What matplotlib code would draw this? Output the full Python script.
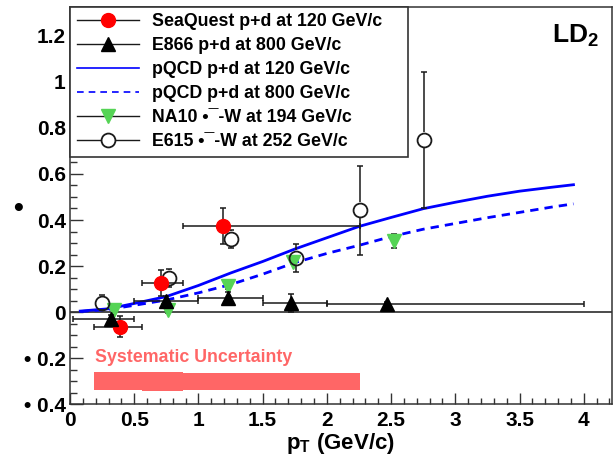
import numpy as np
import matplotlib
matplotlib.use("Agg")
import matplotlib.pyplot as plt
from matplotlib.lines import Line2D
from matplotlib.ticker import MultipleLocator, FuncFormatter

plt.rcParams['font.family'] = ['Liberation Sans', 'DejaVu Sans']
plt.rcParams['font.weight'] = 'bold'
plt.rcParams['mathtext.fontset'] = 'custom'
plt.rcParams['mathtext.rm'] = 'Liberation Sans:bold'
plt.rcParams['mathtext.bf'] = 'Liberation Sans:bold'
plt.rcParams['mathtext.it'] = 'Liberation Sans:bold'

# SeaQuest p+d at 120 GeV/c
sq_pt = [0.39, 0.71, 1.19]
sq_lo = [0.19, 0.563, 0.88]
sq_hi = [0.563, 0.88, 2.255]
sq_val = [-0.062, 0.126, 0.374]
sq_err = [0.047, 0.057, 0.080]
sq_sys = [0.039, 0.040, 0.036]
sys_center = -0.30

# E866 p+d at 800 GeV/c
e866_pt = [0.32, 0.75, 1.23, 1.72, 2.47]
e866_lo = [0.02, 0.5, 1.0, 1.5, 2.0]
e866_hi = [0.5, 1.0, 1.5, 2.0, 4.0]
e866_val = [-0.030, 0.050, 0.060, 0.041, 0.037]
e866_err = [0.020, 0.020, 0.026, 0.038, 0.008]

# pQCD calculations
pqcd_pt = [0.08, 0.3, 0.5, 0.75, 1.0, 1.25, 1.5, 1.75, 2.0, 2.25,
           2.5, 2.75, 3.0, 3.25, 3.5, 3.75, 3.92]
pqcd_120 = [0.005, 0.015, 0.038, 0.068, 0.116, 0.170, 0.220, 0.274, 0.323, 0.372,
            0.411, 0.449, 0.477, 0.503, 0.525, 0.542, 0.553]
pqcd_800 = [0.003, 0.012, 0.030, 0.053, 0.084, 0.120, 0.165, 0.215, 0.255, 0.290,
            0.328, 0.360, 0.385, 0.410, 0.433, 0.456, 0.470]

# NA10 pi- W at 194 GeV/c
na10_pt = [0.34, 0.76, 1.23, 1.74, 2.52]
na10_val = [0.008, 0.010, 0.113, 0.220, 0.310]
na10_err = [0.012, 0.012, 0.012, 0.012, 0.03]

# E615 pi- W at 252 GeV/c
e615_pt = [0.25, 0.77, 1.25, 1.76, 2.26, 2.76]
e615_val = [0.042, 0.148, 0.317, 0.236, 0.442, 0.746]
e615_err = [0.033, 0.039, 0.038, 0.060, 0.193, 0.295]

RED = '#ff0000'
GREEN = '#55d455'
BLUE = '#0000ff'
SYS = '#ff6666'
INK = '#1a1a1a'

YMIN, YMAX = -0.4, 1.325

fig = plt.figure(figsize=(6.16, 4.62), dpi=100)
ax = fig.add_axes([0.1136, 0.1245, 0.8799, 0.861])
ax.set_xlim(0, 4.22)
ax.set_ylim(YMIN, YMAX)

for s in ax.spines.values():
    s.set_color('#333333')
    s.set_linewidth(1.1)

ax.axhline(0, color=INK, lw=1.1, zorder=1.5)

# systematic uncertainty boxes
sq_pt_a = np.array(sq_pt)
sq_lo_a = np.array(sq_lo)
sq_hi_a = np.array(sq_hi)
sys_a = np.array(sq_sys)
ax.bar(sq_lo_a, 2 * sys_a, width=sq_hi_a - sq_lo_a, bottom=sys_center - sys_a,
       align='edge', color=SYS, lw=0, zorder=1)
ax.text(0.195, -0.196, "Systematic Uncertainty", color=SYS, fontsize=12.8,
        fontweight='bold', ha='left', va='center')

# pQCD curves
ax.plot(pqcd_pt, pqcd_120, color=BLUE, lw=2.0, zorder=2)
ax.plot(pqcd_pt, pqcd_800, color=BLUE, lw=2.0, ls=(0, (3, 2.2)), zorder=2)

ebkw = dict(ecolor=INK, elinewidth=1.1, capsize=2, capthick=1.1)

# E866
e866_pt_a = np.array(e866_pt)
ax.errorbar(e866_pt, e866_val,
            xerr=[e866_pt_a - np.array(e866_lo), np.array(e866_hi) - e866_pt_a],
            yerr=e866_err, fmt='^', ms=10, mfc='black', mec='black', zorder=6, **ebkw)

# NA10
ax.errorbar(na10_pt, na10_val, yerr=na10_err, fmt='v', ms=10, mfc=GREEN, mec=GREEN,
            zorder=4, **ebkw)

# E615 (hollow markers, error bars stop at the marker edge)
ax_h_px = ax.get_position().height * fig.get_figheight() * fig.dpi
r_data = (10 / 2 * fig.dpi / 72 + 1.0) / ax_h_px * (YMAX - YMIN)
for x, y, e in zip(e615_pt, e615_val, e615_err):
    if e > r_data:
        ax.vlines(x, y + r_data, y + e, color=INK, lw=1.1, zorder=5)
        ax.vlines(x, y - e, y - r_data, color=INK, lw=1.1, zorder=5)
    ax.plot([x, x], [y - e, y + e], ls='none', marker='_', ms=4, mew=1.1, color=INK, zorder=5)
ax.plot(e615_pt, e615_val, ls='none', marker='o', ms=10, mfc='none', mec=INK, mew=1.3, zorder=5)

# SeaQuest
ax.errorbar(sq_pt, sq_val, xerr=[sq_pt_a - sq_lo_a, sq_hi_a - sq_pt_a], yerr=sq_err,
            fmt='o', ms=10, mfc=RED, mec=RED, zorder=5.5, **ebkw)

# axes ticks
ax.xaxis.set_major_locator(MultipleLocator(0.5))
ax.xaxis.set_minor_locator(MultipleLocator(0.1))
ax.yaxis.set_major_locator(MultipleLocator(0.2))
ax.yaxis.set_minor_locator(MultipleLocator(0.05))


def tick_fmt(v, pos):
    s = f"{abs(v):g}"
    return "\u2022 " + s if v < -1e-9 else s


ax.xaxis.set_major_formatter(FuncFormatter(tick_fmt))
ax.yaxis.set_major_formatter(FuncFormatter(tick_fmt))
ax.tick_params(which='both', direction='in', top=False, right=False, color='#333333',
               width=1.0, labelsize=15)
ax.tick_params(axis='x', which='major', length=7.7, pad=5)
ax.tick_params(axis='x', which='minor', length=4)
ax.tick_params(axis='y', which='major', length=9, pad=3)
ax.tick_params(axis='y', which='minor', length=5)
for lab in ax.get_xticklabels() + ax.get_yticklabels():
    lab.set_fontweight('bold')

ax.text(0.5996, -0.1126, r"p$_{\mathrm{T}}$ (GeV/c)", transform=ax.transAxes,
        ha='right', va='baseline', fontsize=16, fontweight='bold')
fig.text(0.029, 0.548, "\u2022", fontsize=20, ha='center', va='center', fontweight='bold')
ax.text(0.976, 0.926, r"LD$_{\mathrm{2}}$", transform=ax.transAxes, ha='right',
        va='center', fontsize=19, fontweight='bold')

# legend
handles = [
    Line2D([], [], color=INK, lw=1.0, marker='o', ms=10, mfc=RED, mec=RED),
    Line2D([], [], color=INK, lw=1.0, marker='^', ms=10, mfc='black', mec='black'),
    Line2D([], [], color=BLUE, lw=1.2),
    Line2D([], [], color=BLUE, lw=1.2, ls=(0, (4, 3))),
    Line2D([], [], color=INK, lw=1.0, marker='v', ms=10, mfc=GREEN, mec=GREEN),
    Line2D([], [], color=INK, lw=1.0, marker='o', ms=10, mfc='white', mec=INK, mew=1.3),
]
labels = [
    "SeaQuest p+d at 120 GeV/c",
    "E866 p+d at 800 GeV/c",
    "pQCD p+d at 120 GeV/c",
    "pQCD p+d at 800 GeV/c",
    "NA10 \u2022\u00af-W at 194 GeV/c",
    "E615 \u2022\u00af-W at 252 GeV/c",
]
leg = ax.legend(handles, labels, loc='upper left', bbox_to_anchor=(0.0, 0.0, 0.6236, 1.0),
                mode='expand', borderaxespad=0, borderpad=0.38, labelspacing=0.39,
                handlelength=3.5, handletextpad=0.75, fancybox=False,
                framealpha=1, edgecolor='#333333', prop={'weight': 'bold', 'size': 12.8})
leg.get_frame().set_linewidth(1.2)
leg.set_zorder(10)

fig.savefig("out.png", dpi=100)
